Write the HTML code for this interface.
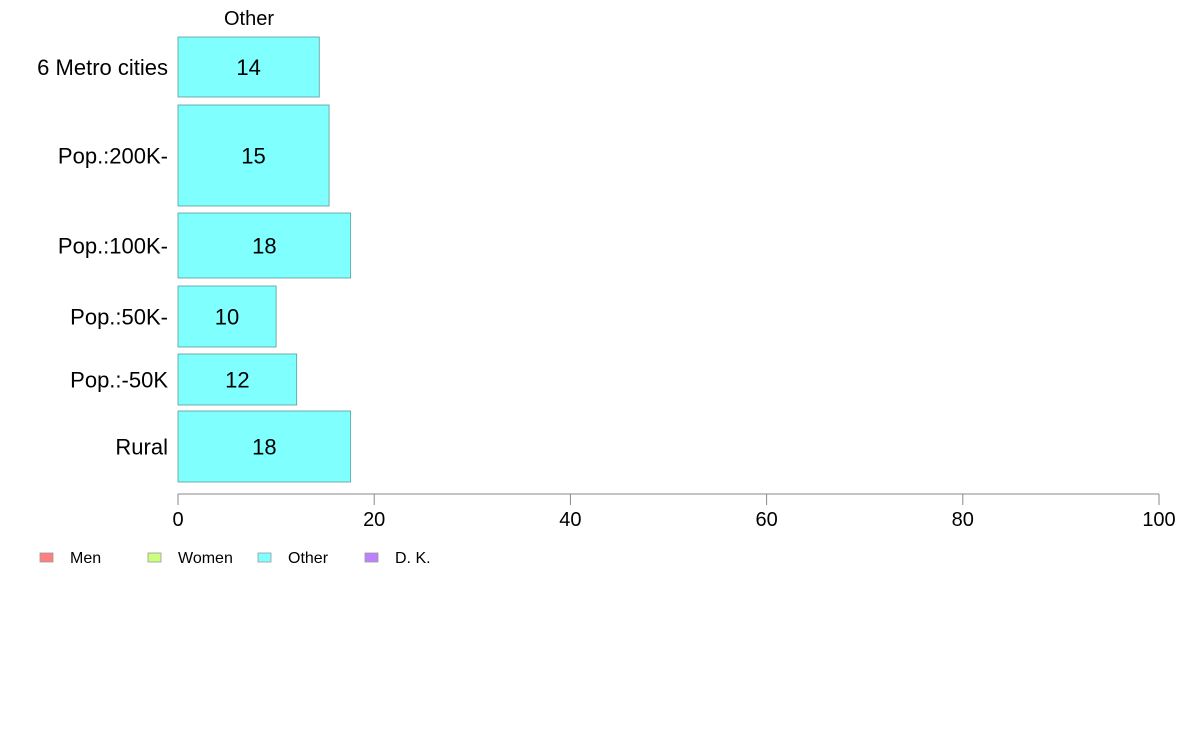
<!DOCTYPE html>
<html><head><meta charset="utf-8"><style>
body{margin:0;background:#fff;width:1188px;height:736px;overflow:hidden;font-family:"Liberation Sans",Arial,sans-serif}
</style></head><body>
<svg id="chart" width="1188" height="736" xmlns="http://www.w3.org/2000/svg" font-family="Liberation Sans, Arial, sans-serif">
<text x="249" y="25" font-size="20" text-anchor="middle">Other</text>
<g id="bars"></g>
<g id="axis"></g>
<g id="legend"></g>
</svg>
<script>
const categories = ["6 Metro cities","Pop.:200K-","Pop.:100K-","Pop.:50K-","Pop.:-50K","Rural"];
const values = [14.4, 15.4, 17.6, 10.0, 12.1, 17.6];
const labels = ["14","15","18","10","12","18"];
const bandTops = [37,105,213,286,354,411];
const bandBottoms = [97,206,278,347,405,482];
const ticks = [0,20,40,60,80,100];
const legendItems = ["Men","Women","Other","D. K."];
const legendColors = ["#ff8080","#ccff80","#80ffff","#bf80ff"];
const legendX = [40,148,258,365];

const NS="http://www.w3.org/2000/svg";
const x0=178,x1=1159;
const xs=v=>x0+(x1-x0)*v/100;
function mk(t,a,p){const e=document.createElementNS(NS,t);for(const k in a)e.setAttribute(k,a[k]);p.appendChild(e);return e;}
const bars=document.getElementById('bars');
categories.forEach((c,i)=>{
  const y0=bandTops[i],y1=bandBottoms[i];
  const r=mk('rect',{x:x0,y:y0,width:xs(values[i])-x0,height:y1-y0,fill:'#80ffff',stroke:'#5a9a9a','stroke-width':0.8},bars);
  
  
  const t=mk('text',{x:(x0+xs(values[i]))/2,y:(y0+y1)/2+8,'font-size':22,'text-anchor':'middle'},bars);
  t.textContent=labels[i];
  
  
  const l=mk('text',{x:168,y:(y0+y1)/2+8,'font-size':22,'text-anchor':'end'},bars);
  l.textContent=c;
  
  
});
const ax=document.getElementById('axis');
const al=mk('line',{x1:x0,x2:x1,y1:494,y2:494,stroke:'#888','stroke-width':1},ax);


ticks.forEach(v=>{
  const tl=mk('line',{x1:xs(v),x2:xs(v),y1:494,y2:505,stroke:'#888','stroke-width':1},ax);
  
  
  const tt=mk('text',{x:xs(v),y:526,'font-size':20,'text-anchor':'middle'},ax);
  tt.textContent=v;
  
  
});
const lg=document.getElementById('legend');
legendItems.forEach((n,i)=>{
  const s=mk('rect',{x:legendX[i],y:553,width:13,height:9,fill:legendColors[i],stroke:'#999','stroke-width':0.8},lg);
  
  
  const t=mk('text',{x:legendX[i]+30,y:563,'font-size':16},lg);
  t.textContent=n;
  
  
});
</script>
</body></html>
